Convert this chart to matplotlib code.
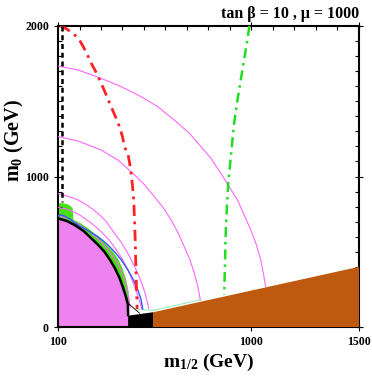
import matplotlib
matplotlib.use('Agg')
import matplotlib.pyplot as plt
from matplotlib.ticker import MultipleLocator, FixedLocator

plt.rcParams['font.family'] = ['Liberation Serif', 'DejaVu Serif']
plt.rcParams['font.weight'] = 'bold'
plt.rcParams['mathtext.fontset'] = 'custom'
plt.rcParams['mathtext.rm'] = 'Liberation Serif:bold'
plt.rcParams['mathtext.it'] = 'Liberation Serif:bold'
plt.rcParams['mathtext.bf'] = 'Liberation Serif:bold'

# 区域边界 (m_1/2, m_0) 单位 GeV
# 紫色区域边界 (黑色粗线)
lsp_m12 = [100, 140, 177, 220, 255, 287, 316, 340, 363, 385, 401, 415, 425, 426, 426]
lsp_m0 = [722, 705, 678, 637, 589, 545, 500, 450, 395, 330, 268, 205, 150, 80, 0]

# 绿色带外边界
green_m12 = [100, 100, 125, 150, 168, 172, 205, 245, 275, 305, 335, 357, 380, 400, 416, 428, 434]
green_m0 = [722, 822, 822, 812, 790, 712, 690, 650, 615, 578, 532, 498, 450, 390, 320, 240, 150]

# 黑色区域
black_m12 = [426, 426, 542, 542]
black_m0 = [0, 75, 98, 0]

# 棕色区域
brown_m12 = [542, 1500, 1500, 542]
brown_m0 = [0, 0, 400, 98]

# 蓝线
blue_m12 = [100, 110, 125, 150, 193, 240, 286, 325, 363, 395, 425, 450, 471, 485, 494]
blue_m0 = [733, 745, 740, 722, 678, 640, 600, 555, 500, 445, 379, 315, 246, 190, 120]

# 品红色弧线
arc1_m12 = [100, 193, 301, 394, 487, 564, 641, 711, 765, 811, 858, 896, 935, 966, 997, 1023, 1043, 1055, 1066]
arc1_m0 = [1734, 1708, 1652, 1597, 1530, 1464, 1375, 1287, 1198, 1121, 1021, 932, 844, 744, 644, 545, 445, 357, 268]
arc2_m12 = [100, 193, 301, 378, 440, 499, 548, 592, 626, 660, 687, 714, 734, 750, 762]
arc2_m0 = [1265, 1236, 1176, 1110, 1032, 950, 866, 788, 711, 622, 534, 445, 357, 270, 180]
arc3_m12 = [100, 150, 193, 240, 286, 325, 363, 395, 425, 450, 471, 490, 505, 515, 522]
arc3_m0 = [884, 868, 844, 805, 755, 700, 622, 560, 489, 420, 357, 290, 224, 170, 124]
arc4_m12 = [100, 150, 200, 255, 300, 340, 370, 400, 425, 445, 462, 475, 484, 489]
arc4_m0 = [795, 780, 745, 690, 635, 575, 515, 450, 380, 312, 245, 190, 150, 124]
arc5_m12 = [100, 150, 200, 250, 300, 340, 370, 395, 413, 425, 432, 436]
arc5_m0 = [742, 720, 680, 630, 565, 500, 440, 370, 300, 230, 170, 130]

# 浅绿线 (棕色区域上沿)
pale_m12 = [470, 542, 650, 760]
pale_m0 = [118, 110, 145, 180]

# 细黑线
thin_m12 = [418, 480]
thin_m0 = [168, 91]

# 红色点划线
red_m12 = [109, 122, 148, 175, 200, 228, 255, 280, 301, 325, 347, 368, 386, 400, 409, 418, 425, 433, 440, 447, 452, 456, 459, 463, 468]
red_m0 = [2000, 1995, 1973, 1945, 1907, 1835, 1752, 1685, 1619, 1540, 1464, 1395, 1331, 1265, 1198, 1170, 1154, 1090, 1021, 930, 844, 710, 578, 357, 120]

# 绿色点划线
gdd_m12 = [990, 981, 966, 950, 934, 919, 905, 892, 886, 881, 877, 873]
gdd_m0 = [2000, 1907, 1780, 1641, 1500, 1353, 1150, 955, 810, 667, 440, 213]

# 黑色虚线
dash_m12 = [120, 120]
dash_m0 = [2000, 830]

fig = plt.figure(figsize=(3.72, 3.82), dpi=100)
ax = fig.add_axes([58/372, 1-327/382, 301/372, 301/382])

# 填充区域
ax.fill(list(green_m12) + lsp_m12[::-1][2:], list(green_m0) + lsp_m0[::-1][2:],
        color='#44E011', lw=0, zorder=1)
ax.fill(lsp_m12 + [100], lsp_m0 + [0], color='#EE82EE', lw=0, zorder=2)
ax.fill(black_m12, black_m0, color='black', lw=0, zorder=3)
ax.fill(brown_m12, brown_m0, color='#BD5A10', lw=0, zorder=3)

# 线
ax.plot(lsp_m12[:-1], lsp_m0[:-1], color='black', lw=1.8, zorder=5)
for m12, m0 in [(arc1_m12, arc1_m0), (arc2_m12, arc2_m0), (arc3_m12, arc3_m0),
                (arc4_m12, arc4_m0), (arc5_m12, arc5_m0)]:
    ax.plot(m12, m0, color='#FF66FF', lw=0.8, zorder=4)
ax.plot(blue_m12, blue_m0, color='#3355FF', lw=1.0, zorder=4)
ax.plot(pale_m12, pale_m0, color='#99EEBB', lw=0.8, zorder=2.5)
ax.plot(thin_m12, thin_m0, color='black', lw=0.6, zorder=4)
ax.plot(red_m12, red_m0, color='#FF2222', lw=2.0, dashes=(4, 2, 1, 2), zorder=6)
ax.plot(gdd_m12, gdd_m0, color='#22DD22', lw=1.8, dashes=(4, 2, 1, 2), zorder=6)
ax.plot(dash_m12, dash_m0, color='black', lw=1.8, dashes=(2, 1.5), zorder=6)

ax.set_xlim(100, 1500)
ax.set_ylim(0, 2000)
ax.xaxis.set_major_locator(FixedLocator([100, 1000, 1500]))
ax.yaxis.set_major_locator(FixedLocator([0, 1000, 2000]))
ax.xaxis.set_minor_locator(MultipleLocator(100))
ax.yaxis.set_minor_locator(MultipleLocator(100))
ax.tick_params(which='both', direction='in', top=True, right=True, width=0.8)
ax.tick_params(which='major', direction='inout', length=6, labelsize=8.5)
ax.tick_params(which='minor', length=3)
for sp in ax.spines.values():
    sp.set_linewidth(1.5)

ax.set_xlabel('m$_{1/2}$ (GeV)', fontsize=14, fontweight='bold', labelpad=3)
ax.set_ylabel('m$_0$ (GeV)', fontsize=14.5, fontweight='bold')
ax.yaxis.set_label_coords(-0.105, 0.62)
ax.set_title('tan β = 10 , μ = 1000', loc='right', fontsize=11.5, fontweight='bold', pad=6)

plt.savefig('out.png', dpi=100)
